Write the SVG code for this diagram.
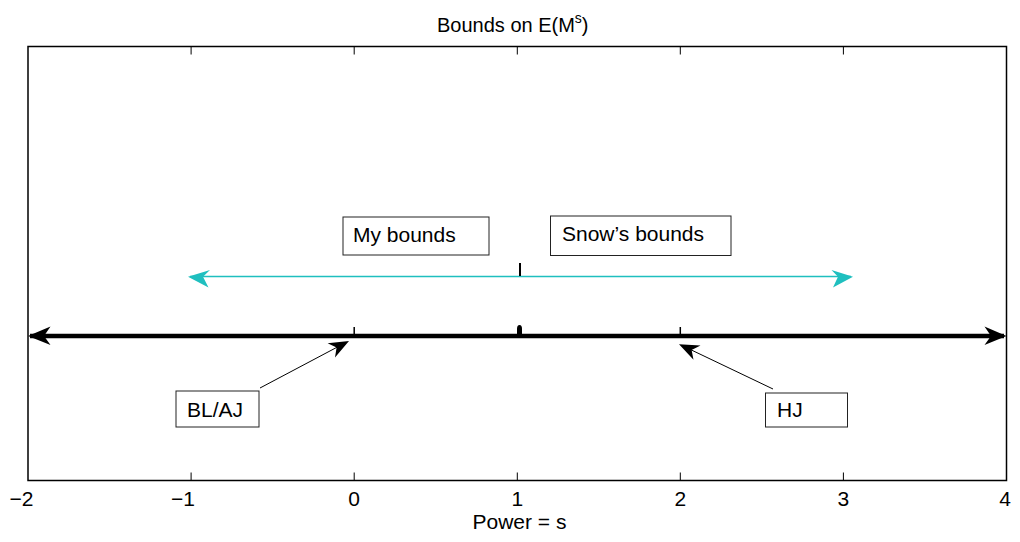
<svg xmlns="http://www.w3.org/2000/svg" width="1020" height="542" viewBox="0 0 1020 542">
<style>
text{font-family:"Liberation Sans",Arial,sans-serif;fill:#000}
.lbl{font-size:21px}
.tick{font-size:21px}
.box{fill:#fff;stroke:#222;stroke-width:1}
.ax{fill:none;stroke:#000;stroke-width:1.5}
.tk{stroke:#000;stroke-width:1}
</style>
<rect width="1020" height="542" fill="#fff"/>
<g id="axes">
<rect class="ax" x="28" y="46.5" width="978.5" height="434"/>
<path class="tk" d="M191.1 46.5v8M354.2 46.5v8M517.3 46.5v8M680.3 46.5v8M843.4 46.5v8M191.1 480.5v-8M354.2 480.5v-8M517.3 480.5v-8M680.3 480.5v-8M843.4 480.5v-8"/>
<text class="tick" x="33.5" y="506" text-anchor="end">−2</text>
<text class="tick" x="195" y="506" text-anchor="end">−1</text>
<text class="tick" x="354.2" y="506" text-anchor="middle">0</text>
<text class="tick" x="517.3" y="506" text-anchor="middle">1</text>
<text class="tick" x="680.3" y="506" text-anchor="middle">2</text>
<text class="tick" x="843.4" y="506" text-anchor="middle">3</text>
<text class="tick" x="1005" y="506" text-anchor="middle">4</text>
<text class="tick" x="519.5" y="529" text-anchor="middle">Power = s</text>
<text x="437" y="31.5" font-size="20">Bounds on E(M<tspan font-size="14" dy="-8.5">s</tspan><tspan dy="8.5">)</tspan></text>
</g>
<g id="connectors">
<path d="M30 336H1004" stroke="#000" stroke-width="4.5" fill="none"/>
<path d="M28 336L50.5 326.5L44 336L50.5 345Z" fill="#000"/>
<path d="M1006.5 336L984.5 326.5L991 336L984.5 345Z" fill="#000"/>
<path d="M354.2 327V336M680.3 327V336" stroke="#000" stroke-width="1.5"/>
<path d="M517 336V329Q517 325 519.5 325Q522 325 522 329V336Z" fill="#000"/>
<path d="M190 276.5H851" stroke="#1fbfbf" stroke-width="1.6" fill="none"/>
<path d="M188 276.8L210 270L203 276.8L208.5 287.5Z" fill="#1fbfbf"/>
<path d="M853 276.8L831.5 270L838 276.8L833 287.5Z" fill="#1fbfbf"/>
<path d="M520 263V276" stroke="#000" stroke-width="2"/>
<path d="M260 388L345 343" stroke="#000" stroke-width="1" fill="none"/>
<path d="M349 341L327.6 343.2L336.6 347.5L335 357.4Z" fill="#000"/>
<path d="M773 389L683 346" stroke="#000" stroke-width="1" fill="none"/>
<path d="M679 344.3L700.5 345.4L691.6 350L693.5 359.8Z" fill="#000"/>
</g>
<g id="my-bounds">
<rect class="box" x="343" y="217" width="146" height="38"/>
<text class="lbl" x="353" y="242">My bounds</text>
</g>
<g id="snows-bounds">
<rect class="box" x="550.5" y="216" width="180.5" height="39.5"/>
<text class="lbl" x="562" y="241">Snow’s bounds</text>
</g>
<g id="bl-aj">
<rect class="box" x="176" y="391" width="83" height="36"/>
<text class="lbl" x="187" y="417">BL/AJ</text>
</g>
<g id="hj">
<rect class="box" x="765.5" y="393" width="82" height="34"/>
<text class="lbl" x="777" y="417">HJ</text>
</g>
</svg>
